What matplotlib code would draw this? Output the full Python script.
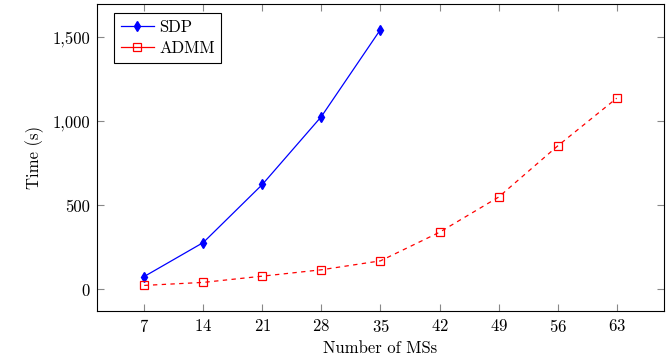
import matplotlib
matplotlib.use("Agg")
import matplotlib.pyplot as plt
from matplotlib.ticker import FuncFormatter

# Data
ms_sdp = [7, 14, 21, 28, 35]
time_sdp = [77, 279, 624, 1028, 1545]

ms_admm = [7, 14, 21, 28, 35, 42, 49, 56, 63]
time_admm = [24, 42, 79, 117, 170, 340, 549, 853, 1137]

xticks = [7, 14, 21, 28, 35, 42, 49, 56, 63]
yticks = [0, 500, 1000, 1500]

plt.rcParams['font.family'] = ['cmr10', 'DejaVu Serif']
plt.rcParams['axes.formatter.use_mathtext'] = True
plt.rcParams['font.size'] = 12

fig = plt.figure(figsize=(6.72, 3.59), dpi=100)
ax = fig.add_axes([0.1443, 0.1337, 0.988 - 0.1443, 0.9889 - 0.1337])

ax.plot(ms_sdp, time_sdp, color='blue', linewidth=0.9, marker='d',
        markersize=5, markerfacecolor='blue', markeredgecolor='blue', label='SDP')
ax.plot(ms_admm, time_admm, color='red', linewidth=0.9, linestyle=(0, (3.5, 3.5)),
        marker='s', markersize=6, markerfacecolor='none', markeredgecolor='red',
        markeredgewidth=0.9, label='ADMM')

# pgfplots-like enlarged limits
xr = max(ms_admm) - min(ms_admm)
ax.set_xlim(min(ms_admm) - 0.1 * xr, max(ms_admm) + 0.1 * xr)
yr = max(time_sdp) - min(time_admm)
ax.set_ylim(min(time_admm) - 0.1 * yr, max(time_sdp) + 0.1 * yr)

ax.set_xticks(xticks)
ax.set_yticks(yticks)
ax.yaxis.set_major_formatter(FuncFormatter(lambda v, p: f"{v:,.0f}"))
ax.tick_params(direction='in', length=5, width=0.8, color='#888888',
               top=True, right=True, labelsize=12, pad=5)
for s in ax.spines.values():
    s.set_linewidth(0.8)

ax.set_xlabel('Number of MSs', fontsize=12, labelpad=4)
ax.set_ylabel('Time (s)', fontsize=12, labelpad=6)

leg = ax.legend(loc='upper left', bbox_to_anchor=(0.03, 0.97), fancybox=False,
                edgecolor='black', framealpha=1, fontsize=12, borderpad=0.4,
                handlelength=2.0, handletextpad=0.3, labelspacing=0.35,
                borderaxespad=0)
leg.get_frame().set_linewidth(0.8)
# legend sample line for ADMM is drawn solid in the reference
leg.get_lines()[1].set_linestyle('-')

fig.savefig('out.png', dpi=100)
